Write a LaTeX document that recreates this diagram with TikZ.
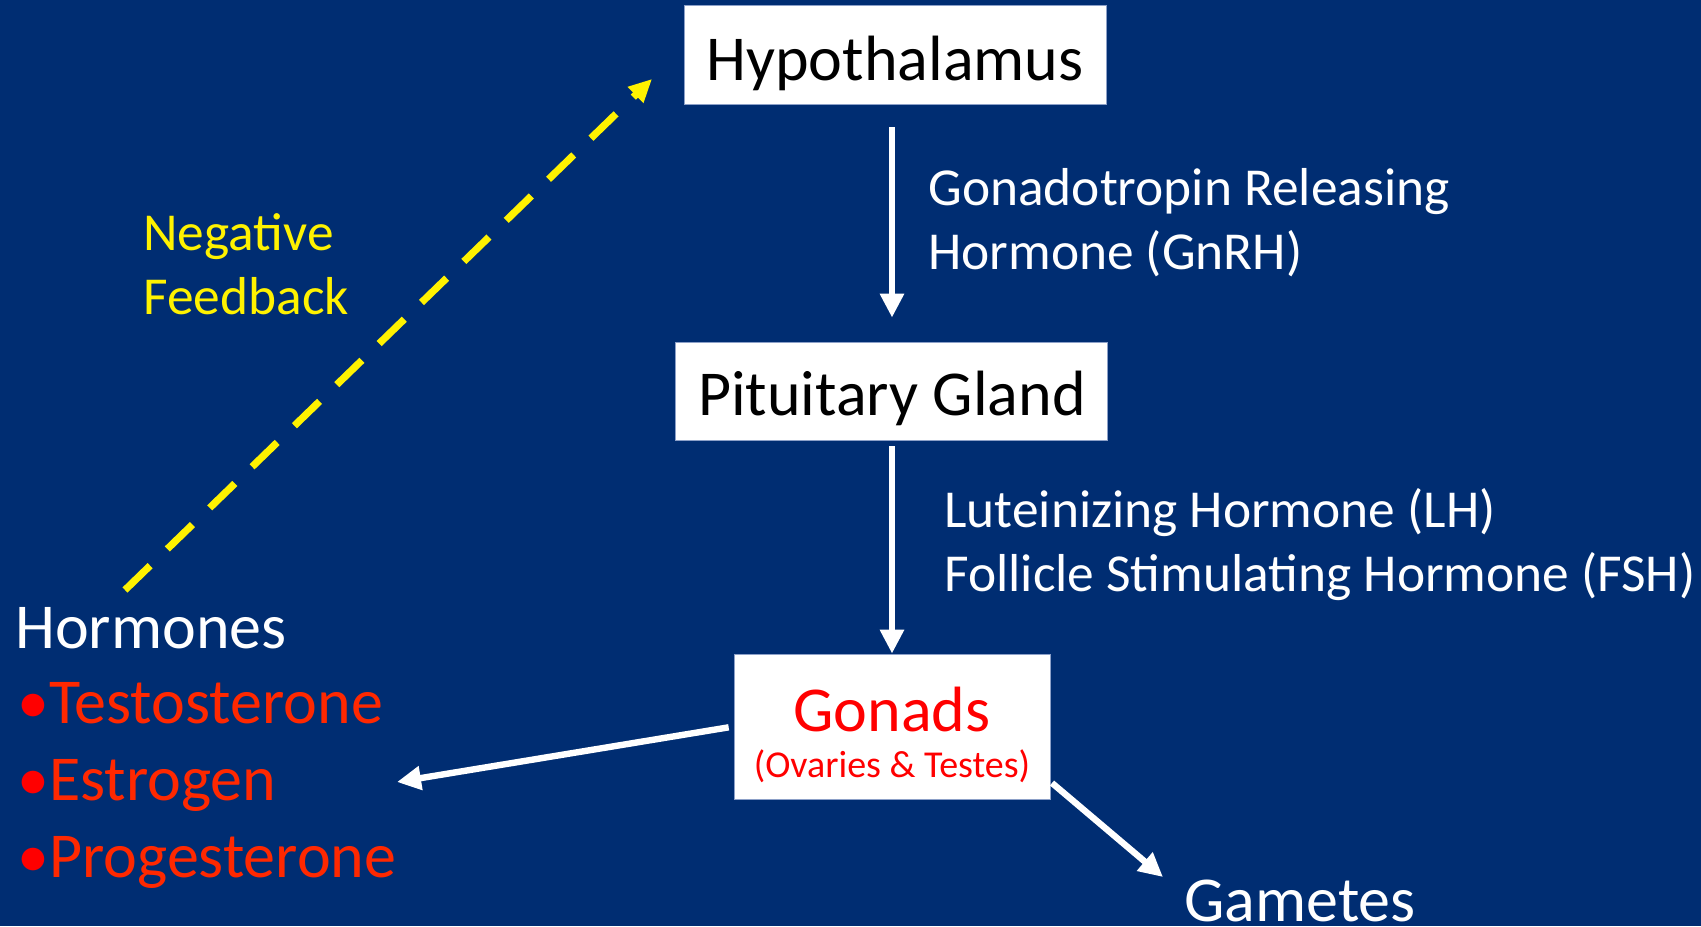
\documentclass[tikz,border=0pt]{standalone}
\usepackage{fontspec}
\setmainfont{Carlito}
\usetikzlibrary{arrows.meta}
\definecolor{bg}{RGB}{0,45,114}
\definecolor{hred}{RGB}{255,40,0}
\definecolor{boxline}{RGB}{140,160,200}
\begin{document}
\begin{tikzpicture}[x=0.5pt,y=-0.5pt,
  box/.style={fill=white, draw=boxline, line width=0.4pt, inner sep=0pt},
  big/.style={font=\fontsize{32}{38}\selectfont, inner sep=0pt, anchor=base},
  mid/.style={font=\fontsize{26.7}{32}\selectfont, inner sep=0pt, anchor=base west, text=white},
  warrow/.style={draw=white, line width=3.2pt, -{Triangle[length=12pt,width=11.5pt]}},
  fbarrow/.style={draw=yellow, line width=3.6pt, dash pattern=on 17.5pt off 12pt, -{Triangle[length=11.5pt,width=10.5pt]}}]
\useasboundingbox (0,0) rectangle (1701,926);
\fill[bg] (0,0) rectangle (1701,926);

% boxes
\node[box, minimum width=211pt, minimum height=49.5pt] (hyp) at (895,54.5) {};
\node[box, minimum width=216pt, minimum height=49pt] (pit) at (891,391) {};
\node[box, minimum width=158pt, minimum height=72.5pt] (gon) at (892,726.5) {};

% box texts
\node[big] (hyptxt) at (895,80) {Hypothalamus};
\node[big] (pittxt) at (892,415) {Pituitary Gland};
\node[big, text=red] (gontxt) at (892,731) {Gonads};
\node[font=\fontsize{19}{22}\selectfont, inner sep=0pt, anchor=base, text=red] (gonsub) at (892,777) {(Ovaries \& Testes)};

% side labels
\node[mid] (gnrha) at (928,205) {Gonadotropin Releasing};
\node[mid] (gnrhb) at (928,269) {Hormone (GnRH)};
\node[mid] (lh) at (944,527) {Luteinizing Hormone (LH)};
\node[mid] (fsh) at (944,591) {Follicle Stimulating Hormone (FSH)};
\node[mid, text=yellow] (nega) at (143,250) {Negative};
\node[mid, text=yellow] (negb) at (143,314) {Feedback};

% hormones list
\node[big, anchor=base west, text=white] (horm) at (15,648) {Hormones};
\node[big, anchor=base west, text=hred] (testo) at (17,723) {\textcolor{red}{•}Testosterone};
\node[big, anchor=base west, text=hred] (estro) at (17,800) {\textcolor{red}{•}Estrogen};
\node[big, anchor=base west, text=hred] (proge) at (17,877) {\textcolor{red}{•}Progesterone};

% gametes
\node[big, anchor=base west, text=white] (gam) at (1184,921) {Gametes};

% connectors
\coordinate (htip) at (397,782);
\coordinate (gstart) at (1052,783);
\coordinate (gtip) at (1163,877);
\coordinate (fbstart) at (125,590);
\coordinate (fbtip) at (652,79);

\draw[warrow, shorten <=11.5pt, shorten >=12pt] (hyp.south -| gon.north) -- (pit.north -| gon.north);
\draw[warrow, shorten <=3pt] (pit.south -| gon.north) -- (gon.north);
\draw[warrow, shorten <=2.5pt] (gon.west) -- (htip);
\draw[warrow] (gstart) -- (gtip);
\draw[fbarrow] (fbstart) -- (fbtip);
\end{tikzpicture}
\end{document}
